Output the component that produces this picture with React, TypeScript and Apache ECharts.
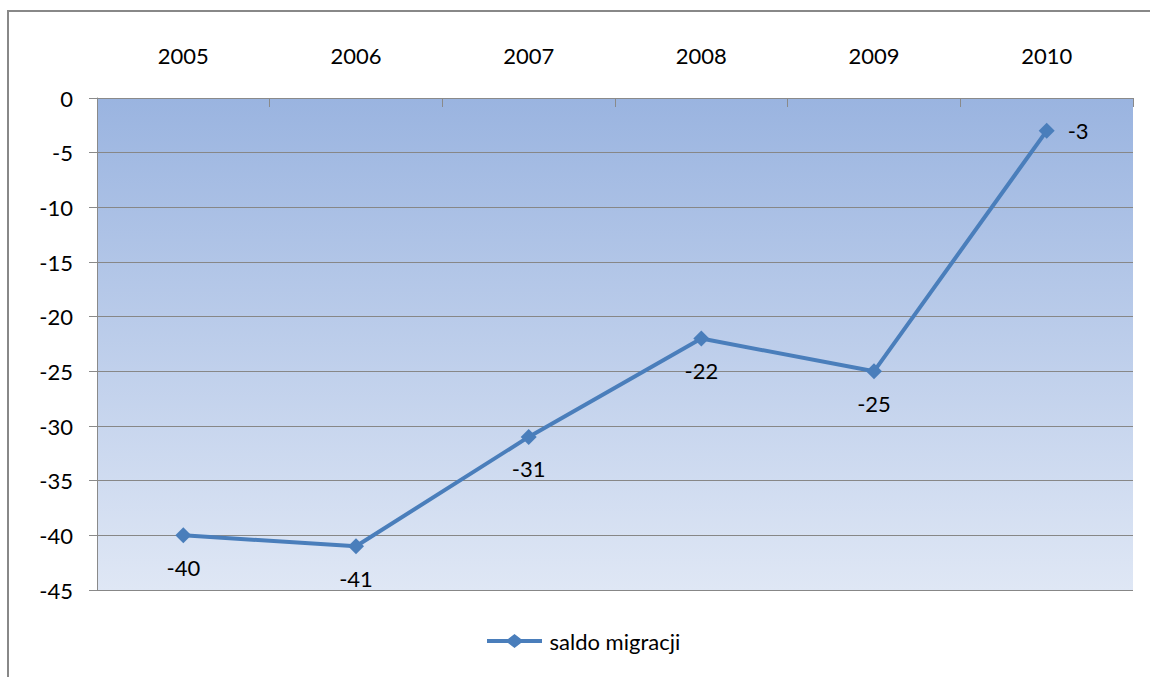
import React, { useEffect, useRef } from "react";
import * as echarts from "echarts";

const years = ["2005", "2006", "2007", "2008", "2009", "2010"];
const saldo = [-40, -41, -31, -22, -25, -3];
const labelPositions = ["bottom", "bottom", "bottom", "bottom", "bottom", "right"];
const seriesName = "saldo migracji";

const legendIcon =
  "path://M0,5 L21,5 L27.5,0 L34,5 L55,5 L55,9 L34,9 L27.5,14 L21,9 L0,9 Z";

export default function App() {
  const ref = useRef<HTMLDivElement>(null);
  useEffect(() => {
    const chart = echarts.init(ref.current!, undefined, { renderer: "svg" });
    const font = "Lato, 'Open Sans', sans-serif";
    chart.setOption({
      animation: false,
      textStyle: { fontFamily: font },
      graphic: [
        {
          type: "rect",
          shape: { x: 8, y: 11, width: 1200, height: 700 },
          style: { fill: "none", stroke: "#888888", lineWidth: 2 },
          silent: true,
        },
      ],
      grid: {
        left: 97,
        right: 17,
        top: 98,
        bottom: 87,
        show: true,
        borderWidth: 0,
        backgroundColor: new echarts.graphic.LinearGradient(0, 0, 0, 1, [
          { offset: 0, color: "#9ab4e0" },
          { offset: 1, color: "#dfe7f5" },
        ]),
      },
      legend: {
        bottom: 20,
        left: 482,
        itemWidth: 56,
        itemHeight: 14,
        itemGap: 4,
        textStyle: { fontSize: 22, color: "#000", fontFamily: font, padding: [0, 0, 0, 2] },
        data: [{ name: seriesName, icon: legendIcon }],
      },
      xAxis: {
        type: "category",
        position: "top",
        data: years,
        boundaryGap: true,
        axisLine: { show: true, lineStyle: { color: "#8a8a8a", width: 1 } },
        axisTick: { show: true, inside: true, length: 9, lineStyle: { color: "#8a8a8a" } },
        axisLabel: { fontSize: 22, color: "#000", margin: 32, fontFamily: font },
        splitLine: { show: false },
      },
      yAxis: {
        type: "value",
        min: -45,
        max: 0,
        interval: 5,
        axisLine: { show: true, lineStyle: { color: "#8a8a8a", width: 1 } },
        axisTick: { show: true, length: 8, lineStyle: { color: "#8a8a8a" } },
        axisLabel: { fontSize: 22, color: "#000", margin: 24, fontFamily: font },
        splitLine: { show: true, lineStyle: { color: "#878787", width: 1 } },
      },
      series: [
        {
          name: seriesName,
          type: "line",
          data: saldo.map((v, i) => ({
            value: v,
            label: { position: labelPositions[i] as any },
          })),
          symbol: "diamond",
          symbolSize: 16,
          lineStyle: { color: "#4a7ebb", width: 4 },
          itemStyle: { color: "#4a7ebb" },
          label: {
            show: true,
            fontSize: 22,
            color: "#000",
            distance: 13,
            fontFamily: font,
          },
        },
      ],
    });
    return () => chart.dispose();
  }, []);
  return (
    <div
      ref={ref}
      style={{ position: "fixed", left: 0, top: 0, width: 1150, height: 677, background: "#fff" }}
    />
  );
}
